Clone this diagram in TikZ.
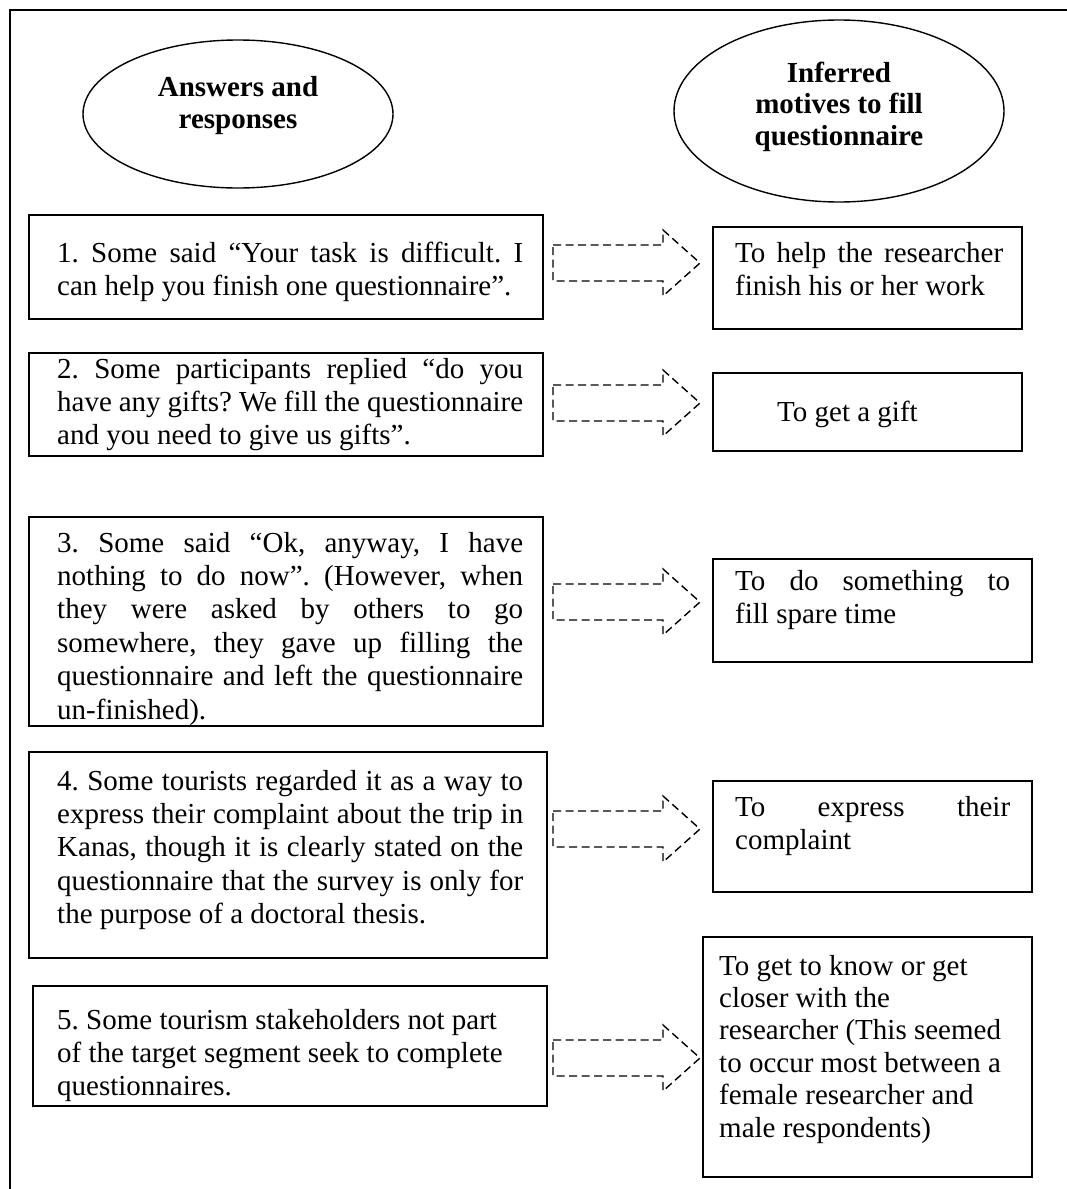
\documentclass[tikz,border=0pt]{standalone}
\usepackage{fontspec}
\setmainfont{Liberation Serif}
\usetikzlibrary{shapes.geometric,calc}

% a line stretched to the full width of its parbox
\newcommand\J[1]{\makebox[\linewidth][s]{#1}}

\tikzset{
  frameline/.style={line width=2.2pt},
  box/.style={draw, line width=1.6pt, inner sep=0pt, anchor=north west},
  headshape/.style={ellipse, draw, line width=1.4pt, inner sep=0pt},
  headtext/.style={inner sep=0pt, anchor=base, align=center,
    font=\bfseries\fontsize{29}{31.5}\selectfont},
  txt/.style={inner sep=0pt, anchor=base west, font=\fontsize{29}{33.4}\selectfont},
  flow/.style={draw, line width=1.4pt, dash pattern=on 8pt off 4.5pt},
}

\begin{document}
\frenchspacing
\begin{tikzpicture}[x=1pt,y=-1pt]
\useasboundingbox (0,0) rectangle (1067,1189);

% outer frame (open to the right and bottom)
\draw[frameline] (1067,10) -- (10,10) -- (10,1189);

% column headings (text anchored on the baseline of its last line)
\node[headshape, minimum width=310pt, minimum height=148pt] (h1) at (238,114) {};
\node[headtext] (h1t) at (238,128) {Answers and\\responses};
\node[headshape, minimum width=330pt, minimum height=182pt] (h2) at (839,111) {};
\node[headtext] (h2t) at (839,145) {Inferred\\motives to fill\\questionnaire};

% left column: answers and responses
\node[box, minimum width=514pt, minimum height=104pt] (a1) at (28,214) {};
\node[txt] (a1t) at (57,262) {\parbox[t]{466pt}{%
  \J{1. Some said “Your task is difficult. I}\\
  can help you finish one questionnaire”.}};

\node[box, minimum width=514pt, minimum height=103pt] (a2) at (28,352) {};
\node[txt] (a2t) at (57,378) {\parbox[t]{466pt}{%
  \J{2. Some participants replied “do you}\\
  \J{have any gifts? We fill the questionnaire}\\
  and you need to give us gifts”.}};

\node[box, minimum width=514pt, minimum height=209pt] (a3) at (28,516) {};
\node[txt] (a3t) at (57,552) {\parbox[t]{466pt}{%
  \J{3. Some said “Ok, anyway, I have}\\
  \J{nothing to do now”. (However, when}\\
  \J{they were asked by others to go}\\
  \J{somewhere, they gave up filling the}\\
  \J{questionnaire and left the questionnaire}\\
  un-finished).}};

\node[box, minimum width=518pt, minimum height=206pt] (a4) at (28,751) {};
\node[txt] (a4t) at (57,790) {\parbox[t]{466pt}{%
  \J{4. Some tourists regarded it as a way to}\\
  \J{express their complaint about the trip in}\\
  \J{Kanas, though it is clearly stated on the}\\
  \J{questionnaire that the survey is only for}\\
  the purpose of a doctoral thesis.}};

\node[box, minimum width=514pt, minimum height=120pt] (a5) at (32,985) {};
\node[txt] (a5t) at (57,1029) {\parbox[t]{470pt}{%
  5. Some tourism stakeholders not part\\
  of the target segment seek to complete\\
  questionnaires.}};

% right column: inferred motives
\node[box, minimum width=309pt, minimum height=102pt] (m1) at (712,226) {};
\node[txt] (m1t) at (735,262) {\parbox[t]{268pt}{%
  \J{To help the researcher}\\
  finish his or her work}};

\node[box, minimum width=309pt, minimum height=78pt] (m2) at (712,372) {};
\node[txt] (m2t) at (777,421) {To get a gift};

\node[box, minimum width=319pt, minimum height=103pt] (m3) at (712,558) {};
\node[txt] (m3t) at (735,590) {\parbox[t]{275pt}{%
  \J{To do something to}\\
  fill spare time}};

\node[box, minimum width=319pt, minimum height=111pt] (m4) at (712,780) {};
\node[txt] (m4t) at (735,816) {\parbox[t]{275pt}{%
  \J{To express their}\\
  complaint}};

\node[box, minimum width=329pt, minimum height=240pt] (m5) at (702,936) {};
\node[txt, font=\fontsize{29}{32.4}\selectfont] (m5t) at (719,975) {\parbox[t]{300pt}{%
  To get to know or get\\
  closer with the\\
  researcher (This seemed\\
  to occur most between a\\
  female researcher and\\
  male respondents)}};

% dashed block arrows: tail and tip of each
\coordinate (s1) at (553,263);  \coordinate (e1) at (700,263);
\coordinate (s2) at (553,403);  \coordinate (e2) at (700,403);
\coordinate (s3) at (553,602);  \coordinate (e3) at (700,602);
\coordinate (s4) at (553,829);  \coordinate (e4) at (700,829);
\coordinate (s5) at (553,1058); \coordinate (e5) at (700,1058);

\foreach \i in {1,...,5}{
  \draw[flow] ($(s\i)+(0,-18)$) -- ++(110,0) -- ++(0,-15) -- (e\i)
    -- ++(-37,33) -- ++(0,-15) -- ++(-110,0) -- cycle;
}
\end{tikzpicture}
\end{document}
